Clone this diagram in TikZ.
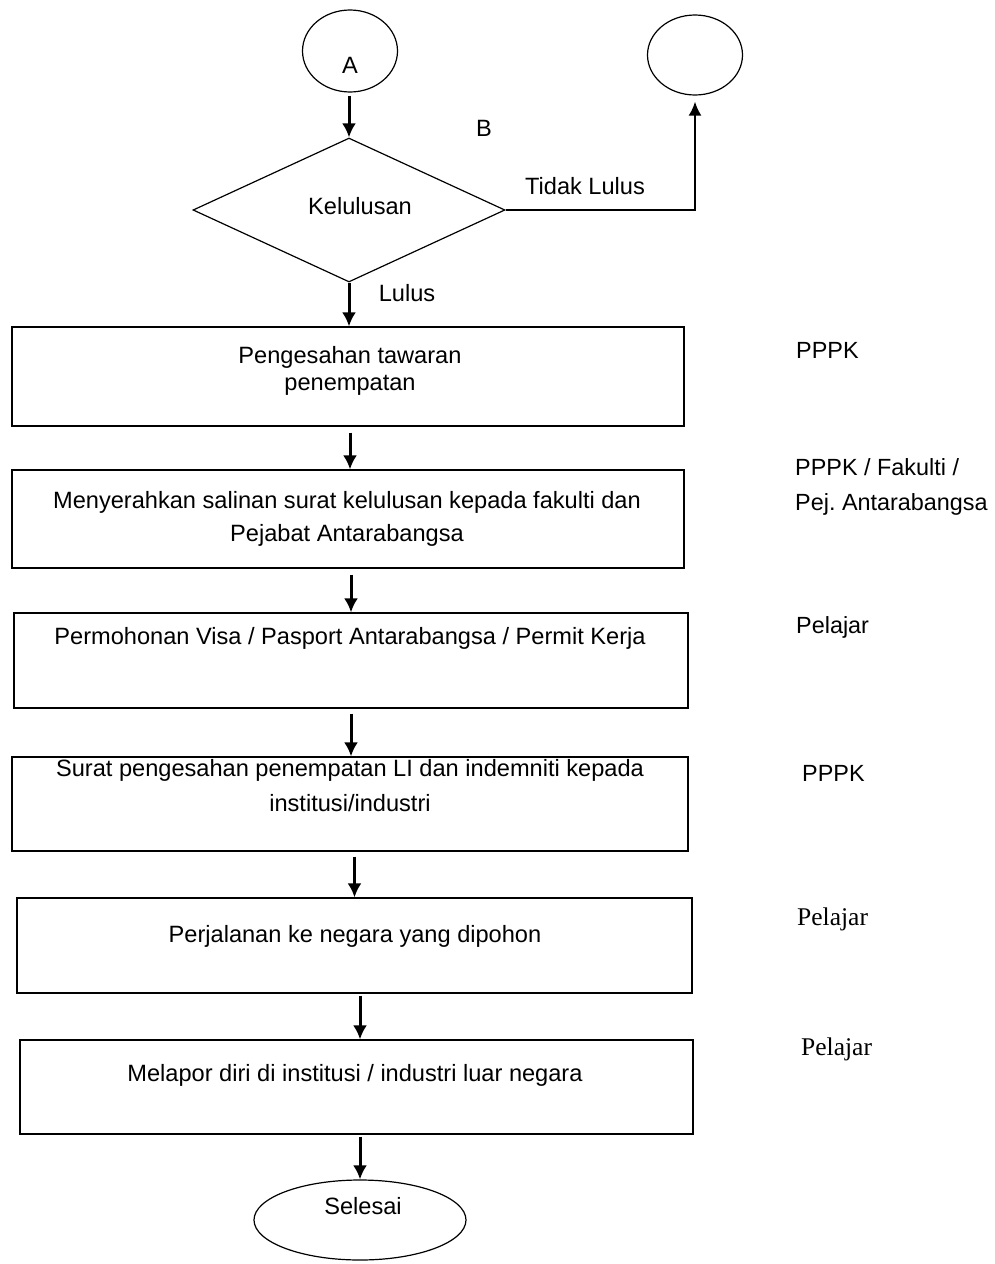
\documentclass[tikz,border=0pt]{standalone}
\usepackage{fontspec}
\setmainfont{Liberation Sans}
\newfontfamily\serifpart{Liberation Serif}
\usetikzlibrary{shapes.geometric,arrows.meta}
\frenchspacing
\begin{document}
\begin{tikzpicture}[x=1pt,y=-1pt,
  box/.style={draw,line width=1.2pt,inner sep=0pt,minimum width=672pt},
  ell/.style={draw,ellipse,line width=1.2pt,inner sep=0pt},
  txt/.style={font=\fontsize{23.6}{27}\selectfont,inner sep=0pt,align=center},
  lbl/.style={font=\fontsize{23.4}{35}\selectfont,inner sep=0pt,align=left,anchor=west},
  slbl/.style={font=\serifpart\fontsize{25.5}{28}\selectfont,inner sep=0pt,anchor=west},
  arr/.style={line width=3pt,-{Latex[length=14pt,width=14pt]}},
  thinarr/.style={line width=2.2pt,-{Latex[length=14pt,width=13pt]}}]
\useasboundingbox (0,0) rectangle (995,1264);

% terminals
\node[ell,minimum width=95pt,minimum height=82pt] (A) at (350,51) {};
\node[txt] (Atxt) at (350,65) {A};
\node[ell,minimum width=95pt,minimum height=80pt] (C) at (695,55) {};

% decision
\node[draw,diamond,line width=1.2pt,inner sep=0pt,minimum width=312pt,minimum height=144pt] (D) at (349,210) {};
\node[txt] (Dtxt) at (360,206) {Kelulusan};
\node[txt] (Btxt) at (484,128) {B};
\node[txt] (NoTxt) at (585,186) {Tidak Lulus};
\node[txt] (YesTxt) at (407,293) {Lulus};

% boxes
\node[box,minimum width=672pt,minimum height=99pt] (B1) at (348,376.5) {};
\node[box,minimum width=672pt,minimum height=98pt] (B2) at (348,519) {};
\node[box,minimum width=674pt,minimum height=95pt] (B3) at (351,660.5) {};
\node[box,minimum width=676pt,minimum height=94pt] (B4) at (350,804) {};
\node[box,minimum width=675pt,minimum height=95pt] (B5) at (354.5,945.5) {};
\node[box,minimum width=673pt,minimum height=94pt] (B6) at (356.5,1087) {};
\node[ell,minimum width=212pt,minimum height=80pt] (E) at (360,1220) {};

% box texts
\node[txt] (T1) at (350,371) {Pengesahan tawaran\\penempatan};
\node[txt,font=\fontsize{23.6}{33}\selectfont] (T2) at (347,519) {Menyerahkan salinan surat kelulusan kepada fakulti dan\\Pejabat Antarabangsa};
\node[txt] (T3) at (350,638) {Permohonan Visa / Pasport Antarabangsa / Permit Kerja};
\node[txt,font=\fontsize{23.6}{35}\selectfont] (T4) at (350,786) {Surat pengesahan penempatan LI dan indemniti kepada\\institusi/industri};
\node[txt] (T5) at (355,936) {Perjalanan ke negara yang dipohon};
\node[txt] (T6) at (355,1075) {Melapor diri di institusi / industri luar negara};
\node[txt] (T7) at (363,1206) {Selesai};

% right-hand labels
\node[lbl] (L1) at (796,350) {PPPK};
\node[lbl] (L2) at (795,487) {PPPK / Fakulti /\\Pej. Antarabangsa};
\node[lbl] (L3) at (796,627) {Pelajar};
\node[lbl] (L4) at (802,773) {PPPK};
\node[slbl] (L5) at (797,919) {Pelajar};
\node[slbl] (L6) at (801,1049) {Pelajar};

% connectors
\draw[arr,shorten <=3pt] (D.north |- A.south) -- (D.north);
\draw[thinarr,shorten >=6pt] (D.east) -- (D.east -| C.south) -- (C.south);
\draw[arr] (D.south) -- (D.south |- B1.north);
\draw[arr,shorten <=6pt] ([xshift=2pt]B2.north |- B1.south) -- ([xshift=2pt]B2.north);
\draw[arr,shorten <=6pt] (B3.north |- B2.south) -- (B3.north);
\draw[arr,shorten <=5pt] (B3.south) -- (B3.south |- B4.north);
\draw[arr,shorten <=5pt] (B5.north |- B4.south) -- (B5.north);
\draw[arr,shorten <=2pt] ([xshift=3.5pt]B6.north |- B5.south) -- ([xshift=3.5pt]B6.north);
\draw[arr,shorten <=2pt] (E.north |- B6.south) -- (E.north);
\end{tikzpicture}
\end{document}
